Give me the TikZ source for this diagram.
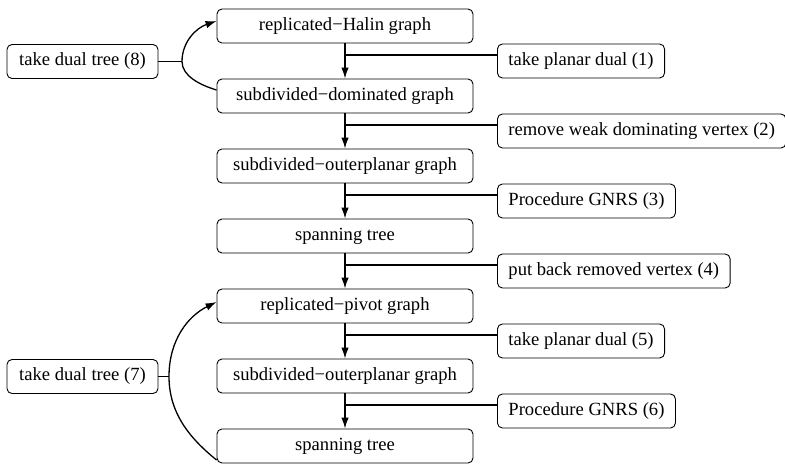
\documentclass[tikz,border=0pt]{standalone}
\usepackage{fontspec}
\setmainfont{Liberation Serif}
\usetikzlibrary{arrows.meta,calc}
\begin{document}
\begin{tikzpicture}[x=1pt,y=-1pt,
  box/.style={draw, rounded corners=5pt, line width=0.9pt, minimum height=34pt, inner sep=0pt, font=\fontsize{18.6}{22}\selectfont},
  mainbox/.style={box, minimum width=256pt},
  sidebox/.style={box, anchor=west, inner xsep=11pt},
  leftbox/.style={box, minimum width=151pt},
  conn/.style={line width=1.3pt},
  arr/.style={conn, -{Latex[length=11pt,width=7.5pt]}}]
\useasboundingbox (0,0) rectangle (785,464);
% main column
\node[mainbox] (m1) at (345,26)  {replicated−Halin graph};
\node[mainbox] (m2) at (345,96)  {subdivided−dominated graph};
\node[mainbox] (m3) at (345,166) {subdivided−outerplanar graph};
\node[mainbox] (m4) at (345,236) {spanning tree};
\node[mainbox] (m5) at (345,306) {replicated−pivot graph};
\node[mainbox] (m6) at (345,376) {subdivided−outerplanar graph};
\node[mainbox] (m7) at (345,446) {spanning tree};
% side boxes
\node[sidebox] (r1) at (497,61)  {take planar dual (1)};
\node[sidebox] (r2) at (497,131) {remove weak dominating vertex (2)};
\node[sidebox] (r3) at (497,201) {Procedure GNRS (3)};
\node[sidebox] (r4) at (497,271) {put back removed vertex (4)};
\node[sidebox] (r5) at (497,341) {take planar dual (5)};
\node[sidebox] (r6) at (497,411) {Procedure GNRS (6)};
% left boxes
\node[leftbox] (l8) at (82.5,61.5)  {take dual tree (8)};
\node[leftbox] (l7) at (82.5,376.5) {take dual tree (7)};
% junctions
\coordinate (j1) at (345,55);
\coordinate (j2) at (345,125);
\coordinate (j3) at (345,195);
\coordinate (j4) at (345,265);
\coordinate (j5) at (345,335);
\coordinate (j6) at (345,405);
\coordinate (b8) at (182,61.5);
\coordinate (b7) at (169,376.5);
% vertical arrows
\draw[arr] (m1.south) -- (m2.north);
\draw[arr] (m2.south) -- (m3.north);
\draw[arr] (m3.south) -- (m4.north);
\draw[arr] (m4.south) -- (m5.north);
\draw[arr] (m5.south) -- (m6.north);
\draw[arr] (m6.south) -- (m7.north);
% side connectors
\draw[conn] (j1) -- (j1 -| r1.west);
\draw[conn] (j2) -- (j2 -| r2.west);
\draw[conn] (j3) -- (j3 -| r3.west);
\draw[conn] (j4) -- (j4 -| r4.west);
\draw[conn] (j5) -- (j5 -| r5.west);
\draw[conn] (j6) -- (j6 -| r6.west);
% left loop (8)
\draw[conn] (l8.east) -- (b8);
\draw[arr] (b8) .. controls (182,42) and (196,28) .. ([yshift=5pt]m1.west);
\draw[conn] (b8) .. controls (182,76) and (200,85) .. ([yshift=6pt]m2.west);
% left loop (7)
\draw[conn] (l7.east) -- (b7);
\draw[arr] (b7) .. controls (169,340) and (188,316) .. ([yshift=4pt]m5.west);
\draw[conn] (b7) .. controls (169,415) and (192,440) .. ([yshift=-14pt]m7.west);
\end{tikzpicture}
\end{document}
